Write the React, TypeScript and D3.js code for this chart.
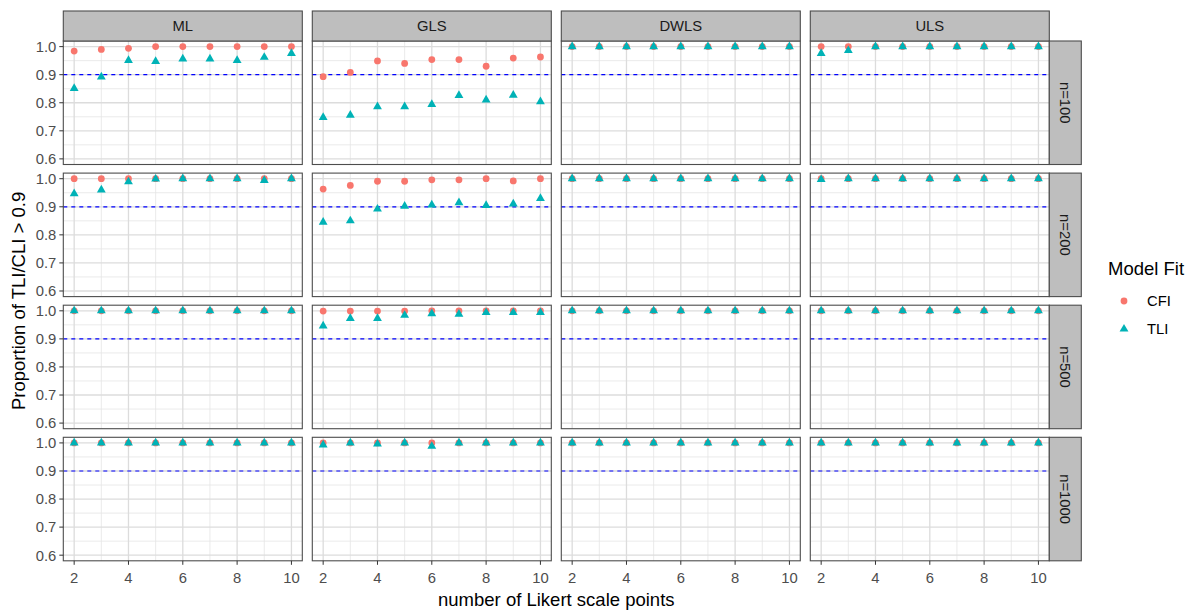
import React from "react";
import * as d3 from "d3";

const likertPoints = [2, 3, 4, 5, 6, 7, 8, 9, 10];
const methods = ["ML", "GLS", "DWLS", "ULS"];
const sampleSizes = ["n=100", "n=200", "n=500", "n=1000"];
const yTicks = [0.6, 0.7, 0.8, 0.9, 1.0];
const yMinor = [0.65, 0.75, 0.85, 0.95];
const xTicks = [2, 4, 6, 8, 10];
const xMinor = [3, 5, 7, 9];
const cutoff = 0.9;

// CFI values, per method and sample size
const cfiML100 = [0.984, 0.99, 0.994, 1, 1, 1, 1, 1, 1];
const cfiGLS100 = [0.893, 0.908, 0.949, 0.94, 0.954, 0.954, 0.93, 0.959, 0.963];
const cfiDWLS100 = [1, 1, 1, 1, 1, 1, 1, 1, 1];
const cfiULS100 = [1, 1, 1, 1, 1, 1, 1, 1, 1];
const cfiML200 = [1, 1, 1, 1, 1, 1, 1, 1, 1];
const cfiGLS200 = [0.963, 0.976, 0.991, 0.991, 0.996, 0.996, 1, 0.992, 1];
const cfiDWLS200 = [1, 1, 1, 1, 1, 1, 1, 1, 1];
const cfiULS200 = [1, 1, 1, 1, 1, 1, 1, 1, 1];
const cfiML500 = [1, 1, 1, 1, 1, 1, 1, 1, 1];
const cfiGLS500 = [0.999, 0.999, 0.999, 0.999, 1, 1, 1, 1, 1];
const cfiDWLS500 = [1, 1, 1, 1, 1, 1, 1, 1, 1];
const cfiULS500 = [1, 1, 1, 1, 1, 1, 1, 1, 1];
const cfiML1000 = [1, 1, 1, 1, 1, 1, 1, 1, 1];
const cfiGLS1000 = [1, 1, 1, 1, 1, 1, 1, 1, 1];
const cfiDWLS1000 = [1, 1, 1, 1, 1, 1, 1, 1, 1];
const cfiULS1000 = [1, 1, 1, 1, 1, 1, 1, 1, 1];

// TLI values, per method and sample size
const tliML100 = [0.851, 0.892, 0.951, 0.947, 0.956, 0.956, 0.951, 0.962, 0.976];
const tliGLS100 = [0.748, 0.756, 0.786, 0.786, 0.794, 0.826, 0.81, 0.827, 0.804];
const tliDWLS100 = [1, 1, 1, 1, 1, 1, 1, 1, 1];
const tliULS100 = [0.976, 0.986, 1, 1, 1, 1, 1, 1, 1];
const tliML200 = [0.947, 0.96, 0.989, 0.999, 1, 1, 1, 0.994, 1];
const tliGLS200 = [0.845, 0.85, 0.892, 0.902, 0.907, 0.915, 0.905, 0.91, 0.93];
const tliDWLS200 = [1, 1, 1, 1, 1, 1, 1, 1, 1];
const tliULS200 = [0.997, 1, 1, 1, 1, 1, 1, 1, 1];
const tliML500 = [1, 1, 1, 1, 1, 1, 1, 1, 1];
const tliGLS500 = [0.946, 0.973, 0.973, 0.984, 0.99, 0.988, 0.994, 0.994, 0.994];
const tliDWLS500 = [1, 1, 1, 1, 1, 1, 1, 1, 1];
const tliULS500 = [1, 1, 1, 1, 1, 1, 1, 1, 1];
const tliML1000 = [1, 1, 1, 1, 1, 1, 1, 1, 1];
const tliGLS1000 = [0.993, 1, 0.996, 1, 0.988, 1, 1, 1, 1];
const tliDWLS1000 = [1, 1, 1, 1, 1, 1, 1, 1, 1];
const tliULS1000 = [1, 1, 1, 1, 1, 1, 1, 1, 1];

const cfiGrid = [
  [cfiML100, cfiGLS100, cfiDWLS100, cfiULS100],
  [cfiML200, cfiGLS200, cfiDWLS200, cfiULS200],
  [cfiML500, cfiGLS500, cfiDWLS500, cfiULS500],
  [cfiML1000, cfiGLS1000, cfiDWLS1000, cfiULS1000],
];
const tliGrid = [
  [tliML100, tliGLS100, tliDWLS100, tliULS100],
  [tliML200, tliGLS200, tliDWLS200, tliULS200],
  [tliML500, tliGLS500, tliDWLS500, tliULS500],
  [tliML1000, tliGLS1000, tliDWLS1000, tliULS1000],
];

const CFI_COLOR = "#F8766D";
const TLI_COLOR = "#00B2B6";
const FONT = "'Liberation Sans', Arial, sans-serif";

export default function App() {
  const W = 1193;
  const H = 613;
  const left0 = 63.3;
  const panelW = 239;
  const stepX = 249;
  const top0 = 41;
  const panelH = 123.5;
  const stepY = 132.1;
  const stripH = 30;
  const rStripW = 32;

  const x = d3.scaleLinear().domain([1.6, 10.4]).range([0, panelW]);
  const y = d3.scaleLinear().domain([0.58, 1.02]).range([panelH, 0]);
  const tri = d3.symbol().type(d3.symbolTriangle).size(34)();

  const panels: React.ReactNode[] = [];
  sampleSizes.forEach((sz, r) => {
    methods.forEach((m, c) => {
      const px = left0 + c * stepX;
      const py = top0 + r * stepY;
      const cfi = cfiGrid[r][c];
      const tli = tliGrid[r][c];
      panels.push(
        <g key={`${r}-${c}`} transform={`translate(${px},${py})`}>
          <rect width={panelW} height={panelH} fill="#fff" />
          {yMinor.map((v) => (
            <line key={"ym" + v} x1={0} x2={panelW} y1={y(v)} y2={y(v)} stroke="#e4e4e4" strokeWidth={0.8} />
          ))}
          {xMinor.map((v) => (
            <line key={"xm" + v} x1={x(v)} x2={x(v)} y1={0} y2={panelH} stroke="#e4e4e4" strokeWidth={0.8} />
          ))}
          {yTicks.map((v) => (
            <line key={"yM" + v} x1={0} x2={panelW} y1={y(v)} y2={y(v)} stroke="#dcdcdc" strokeWidth={1.3} />
          ))}
          {xTicks.map((v) => (
            <line key={"xM" + v} x1={x(v)} x2={x(v)} y1={0} y2={panelH} stroke="#dcdcdc" strokeWidth={1.3} />
          ))}
          <line x1={0} x2={panelW} y1={y(cutoff)} y2={y(cutoff)} stroke="#0000ff" strokeWidth={1.2} strokeDasharray="4,4" />
          {likertPoints.map((p, i) => (
            <circle key={"c" + p} cx={x(p)} cy={y(cfi[i])} r={3.4} fill={CFI_COLOR} />
          ))}
          {likertPoints.map((p, i) => (
            <path key={"t" + p} d={tri as string} transform={`translate(${x(p)},${y(tli[i])})`} fill={TLI_COLOR} />
          ))}
          <rect width={panelW} height={panelH} fill="none" stroke="#4d4d4d" strokeWidth={1.1} />
          {r === 0 && (
            <g>
              <rect x={0} y={-stripH} width={panelW} height={stripH} fill="#bebebe" stroke="#4d4d4d" strokeWidth={1.1} />
              <text x={panelW / 2} y={-stripH / 2} dy="0.36em" textAnchor="middle" fontSize={14.8} fill="#1a1a1a" fontFamily={FONT}>
                {m}
              </text>
            </g>
          )}
          {c === methods.length - 1 && (
            <g>
              <rect x={panelW} y={0} width={rStripW} height={panelH} fill="#bebebe" stroke="#4d4d4d" strokeWidth={1.1} />
              <text
                transform={`translate(${panelW + rStripW / 2},${panelH / 2}) rotate(90)`}
                dy="0.36em"
                textAnchor="middle"
                fontSize={14.8}
                fill="#1a1a1a"
                fontFamily={FONT}
              >
                {sz}
              </text>
            </g>
          )}
          {c === 0 &&
            yTicks.map((v) => (
              <g key={"yt" + v}>
                <line x1={-4} x2={0} y1={y(v)} y2={y(v)} stroke="#333" strokeWidth={1} />
                <text x={-7} y={y(v)} dy="0.36em" textAnchor="end" fontSize={14.8} fill="#4d4d4d" fontFamily={FONT}>
                  {v.toFixed(1)}
                </text>
              </g>
            ))}
          {r === sampleSizes.length - 1 &&
            xTicks.map((v) => (
              <g key={"xt" + v}>
                <line x1={x(v)} x2={x(v)} y1={panelH} y2={panelH + 4} stroke="#333" strokeWidth={1} />
                <text x={x(v)} y={panelH + 17} dy="0.36em" textAnchor="middle" fontSize={14.8} fill="#4d4d4d" fontFamily={FONT}>
                  {v}
                </text>
              </g>
            ))}
        </g>
      );
    });
  });

  const plotCenterX = left0 + (3 * stepX + panelW) / 2;
  const plotCenterY = top0 + (3 * stepY + panelH) / 2;

  return (
    <div style={{ position: "absolute", left: 0, top: 0 }}>
      <svg width={W} height={H} style={{ display: "block", background: "#fff" }}>
        {panels}
        <text x={plotCenterX} y={606} textAnchor="middle" fontSize={18.5} fill="#000" fontFamily={FONT}>
          number of Likert scale points
        </text>
        <text
          transform={`translate(18,${plotCenterY}) rotate(-90)`}
          dy="0.36em"
          textAnchor="middle"
          fontSize={18.5}
          fill="#000"
          fontFamily={FONT}
        >
          Proportion of TLI/CLI &gt; 0.9
        </text>
        <g>
          <text x={1108} y={275} fontSize={18.5} fill="#000" fontFamily={FONT}>
            Model Fit
          </text>
          <circle cx={1124} cy={301} r={3.4} fill={CFI_COLOR} />
          <text x={1147} y={301} dy="0.36em" fontSize={14.8} fill="#000" fontFamily={FONT}>
            CFI
          </text>
          <path d={tri as string} transform="translate(1124,329)" fill={TLI_COLOR} />
          <text x={1147} y={329} dy="0.36em" fontSize={14.8} fill="#000" fontFamily={FONT}>
            TLI
          </text>
        </g>
      </svg>
    </div>
  );
}
